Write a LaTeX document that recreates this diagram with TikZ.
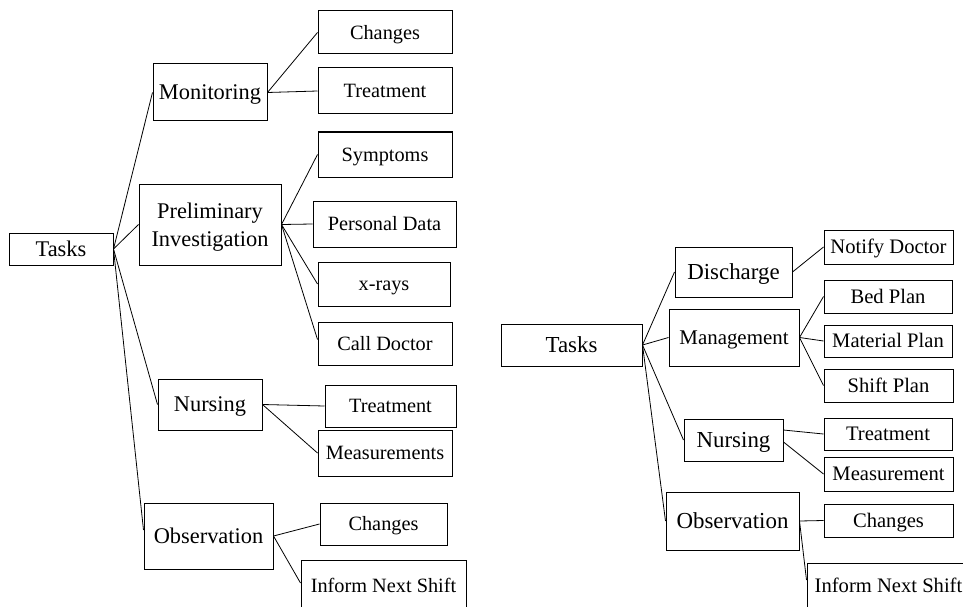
\documentclass[tikz,border=0pt]{standalone}
\usepackage{fontspec}
\setmainfont{Liberation Serif}
\usetikzlibrary{calc}
\tikzset{
  box/.style={draw, line width=1pt, inner sep=0pt, align=center},
  mainL/.style={box, text height=15.3pt, text depth=0.5pt, font=\fontsize{22.4}{28}\selectfont},
  leafL/.style={box, text height=14pt, text depth=0.5pt, font=\fontsize{20.3}{24}\selectfont},
  mainR/.style={box, text height=15.6pt, text depth=0.5pt, font=\fontsize{22.9}{27}\selectfont},
  leafR/.style={box, text height=14.2pt, text depth=0.5pt, font=\fontsize{20.6}{24}\selectfont},
  link/.style={line width=0.8pt},
  sz/.style 2 args={minimum width=#1pt, minimum height=#2pt}
}
\begin{document}
\begin{tikzpicture}[x=1pt,y=-1pt]
\useasboundingbox (0,0) rectangle (963,607);
\clip (0,0) rectangle (963,607);

% ---------- left tree ----------
\node[mainL, sz={104}{32}] (tasksL) at (61,249) {Tasks};
\node[mainL, sz={114}{57}] (monL) at (210,92.5) {Monitoring};
\node[box, text depth=0pt, font=\fontsize{22.4}{28}\selectfont, sz={142}{81}] (preL) at (210,224.5) {Preliminary\\Investigation};
\node[mainL, sz={104}{51}] (nurL) at (210,404.5) {Nursing};
\node[mainL, sz={129}{66}] (obsL) at (208.5,536) {Observation};

\node[leafL, sz={134}{43}] (chgL1) at (385,32.5) {Changes};
\node[leafL, sz={134}{46}] (trtL1) at (385,91) {Treatment};
\node[leafL, sz={134}{45}] (symL) at (385,154.5) {Symptoms};
\node[leafL, sz={143}{46}] (pdL) at (384.5,224) {Personal Data};
\node[leafL, sz={132}{44}] (xrL) at (384,284) {x-rays};
\node[leafL, sz={134}{43}] (cdL) at (385,343.5) {Call Doctor};
\node[leafL, sz={131}{42}] (trtL2) at (390.5,406) {Treatment};
\node[leafL, sz={134}{46}] (measL) at (385,453) {Measurements};
\node[leafL, sz={127}{42}] (chgL2) at (383.5,524) {Changes};
\node[leafL, sz={165}{52}] (infL) at (383.5,586) {Inform Next Shift};

\draw[link] (tasksL.east) -- (monL.west);
\draw[link] (tasksL.east) -- (preL.west);
\draw[link] (tasksL.east) -- (nurL.west);
\draw[link] (tasksL.east) -- ($(obsL.west)+(0,-6)$);
\draw[link] (monL.east) -- (chgL1.west);
\draw[link] (monL.east) -- (trtL1.west);
\draw[link] (preL.east) -- (symL.west);
\draw[link] (preL.east) -- (pdL.west);
\draw[link] (preL.east) -- (xrL.west);
\draw[link] (preL.east) -- ($(cdL.west)+(0,-4)$);
\draw[link] (nurL.east) -- (trtL2.west);
\draw[link] (nurL.east) -- (measL.west);
\draw[link] (obsL.east) -- (chgL2.west);
\draw[link] (obsL.east) -- ($(infL.west)+(0,-3)$);

% ---------- right tree ----------
\node[mainR, sz={141}{42}] (tasksR) at (571.5,345) {Tasks};
\node[mainR, sz={117}{50}] (disR) at (733.5,272) {Discharge};
\node[mainR, sz={130}{57}, text height=14.2pt, font=\fontsize{20.9}{24}\selectfont] (manR) at (734,337.5) {Management};
\node[mainR, sz={99}{42}] (nurR) at (733.5,440) {Nursing};
\node[mainR, sz={133}{58}] (obsR) at (732.5,521) {Observation};

\node[leafR, sz={129}{34}] (ndR) at (888.5,247) {Notify Doctor};
\node[leafR, sz={128}{33}] (bpR) at (888,296.5) {Bed Plan};
\node[leafR, sz={128}{32}] (mpR) at (888,341) {Material Plan};
\node[leafR, sz={129}{33}] (spR) at (888.5,385.5) {Shift Plan};
\node[leafR, sz={128}{32}] (trtR) at (888,434) {Treatment};
\node[leafR, sz={129}{34}] (measR) at (888.5,474) {Measurement};
\node[leafR, sz={129}{33}] (chgR) at (888.5,520.5) {Changes};
\node[leafR, sz={163}{46}] (infR) at (888.5,586) {Inform Next Shift};

\draw[link] (tasksR.east) -- (disR.west);
\draw[link] (tasksR.east) -- (manR.west);
\draw[link] (tasksR.east) -- (nurR.west);
\draw[link] (tasksR.east) -- (obsR.west);
\draw[link] (disR.east) -- (ndR.west);
\draw[link] (manR.east) -- (bpR.west);
\draw[link] (manR.east) -- (mpR.west);
\draw[link] (manR.east) -- (spR.west);
\draw[link] ($(nurR.east)+(0,-10)$) -- (trtR.west);
\draw[link] ($(nurR.east)+(0,2)$) -- (measR.west);
\draw[link] (obsR.east) -- (chgR.west);
\draw[link] (obsR.east) -- ($(infR.west)+(0,-6)$);
\end{tikzpicture}
\end{document}
